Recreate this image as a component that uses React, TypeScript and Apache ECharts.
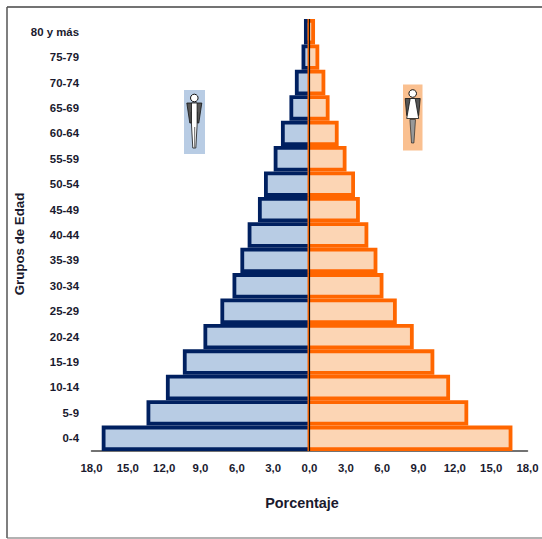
import React, { useEffect, useRef } from "react";
import * as echarts from "echarts";

const ageGroups = ["0-4","5-9","10-14","15-19","20-24","25-29","30-34","35-39","40-44","45-49","50-54","55-59","60-64","65-69","70-74","75-79","80 y más"];
const menPercent = [17.0,13.3,11.7,10.3,8.6,7.2,6.2,5.55,4.95,4.1,3.6,2.8,2.2,1.5,1.05,0.5,0.3];
const womenPercent = [16.6,12.95,11.45,10.15,8.45,7.05,5.95,5.45,4.7,4.0,3.6,2.9,2.25,1.5,1.15,0.65,0.3];
const xTicks = { min: -18, max: 18, interval: 3 };
const BORDER = 3.8;

// Bars whose outline straddles the value (as in the source), open on the zero side.
const barRenderer = (fill: string, stroke: string, edge: boolean) => (_p: any, api: any) => {
  const end = api.coord([api.value(0), api.value(1)]);
  const zero = api.coord([0, api.value(1)]);
  const h = api.size([0, 1])[1] - BORDER;
  const top = end[1] - h / 2;
  const bottom = end[1] + h / 2;
  const children: any[] = [
    { type: "polygon", shape: { points: [[zero[0], top], [end[0], top], [end[0], bottom], [zero[0], bottom]] }, style: { fill } },
    { type: "polyline", shape: { points: [[zero[0], top], [end[0], top], [end[0], bottom], [zero[0], bottom]] }, style: { fill: "none", stroke, lineWidth: BORDER, lineJoin: "miter" } },
  ];
  if (edge) {
    children.push({ type: "line", shape: { x1: zero[0] - 1, y1: top - BORDER / 2, x2: zero[0] - 1, y2: bottom + BORDER / 2 }, style: { stroke, lineWidth: 2 } });
  }
  return { type: "group", children };
};

const man = (cx: number, top: number) => ({
  type: "group", x: cx, y: top, children: [
    { type: "polygon", shape: { points: [[-7.5,13],[7.5,13],[4.5,33],[3,33],[3,22],[-3,22],[-3,33],[-4.5,33]] }, style: { fill: "#555", stroke: "#111", lineWidth: 0.8 } },
    { type: "polygon", shape: { points: [[-2.8,13],[2.8,13],[2.8,35],[1.5,58],[-1.5,58],[-2.8,35]] }, style: { fill: "#fff", stroke: "#111", lineWidth: 0.8 } },
    { type: "line", shape: { x1: 0.4, y1: 37, x2: 0.4, y2: 58 }, style: { stroke: "#666", lineWidth: 1 } },
    { type: "circle", shape: { cx: 0, cy: 8, r: 3.8 }, style: { fill: "#fff", stroke: "#111", lineWidth: 1 } },
  ],
});
const woman = (cx: number, top: number) => ({
  type: "group", x: cx, y: top, children: [
    { type: "polygon", shape: { points: [[-7.5,14],[7.5,14],[6,31],[-6,31]] }, style: { fill: "#555", stroke: "#111", lineWidth: 0.8 } },
    { type: "polygon", shape: { points: [[-2.5,14],[2.5,14],[6,34],[-6,34]] }, style: { fill: "#fff", stroke: "#111", lineWidth: 0.8 } },
    { type: "polygon", shape: { points: [[-2.8,35],[2.8,35],[1.2,58.5],[-1.2,58.5]] }, style: { fill: "#999", stroke: "#111", lineWidth: 0.6 } },
    { type: "circle", shape: { cx: 0, cy: 9, r: 3.8 }, style: { fill: "#fff", stroke: "#111", lineWidth: 1 } },
  ],
});

export default function App() {
  const ref = useRef<HTMLDivElement>(null);
  useEffect(() => {
    const chart = echarts.init(ref.current!, undefined, { renderer: "svg" });
    const font = { fontFamily: "Liberation Sans", fontWeight: "bold" as const, color: "#1a1a2e" };
    chart.setOption({
      animation: false,
      backgroundColor: "#fff",
      grid: { left: 91.5, width: 436, top: 19, height: 432 },
      xAxis: {
        type: "value", ...xTicks,
        splitLine: { show: false },
        axisLine: { show: true, onZero: false, lineStyle: { color: "#444", width: 1.5 } },
        axisTick: { show: false },
        axisLabel: { ...font, fontSize: 11.4, margin: 11, formatter: (v: number) => Math.abs(v).toFixed(1).replace(".", ",") },
        name: "Porcentaje", nameLocation: "middle", nameGap: 45,
        nameTextStyle: { ...font, fontSize: 14.4, padding: [0, 15, 0, 0] },
      },
      yAxis: {
        type: "category", data: ageGroups,
        axisLine: { show: false }, axisTick: { show: false },
        axisLabel: { ...font, fontSize: 11.4, margin: 12.5 },
        name: "Grupos de Edad", nameLocation: "middle", nameGap: 66, nameMoveOverlap: false,
        nameTextStyle: { ...font, fontSize: 13.3, padding: [0, 18, 0, 0] },
      },
      series: [
        {
          name: "Hombres", type: "custom", clip: false, z: 2,
          renderItem: barRenderer("#B8CCE4", "#002060", false),
          encode: { x: 0, y: 1 },
          data: menPercent.map((v, i) => [-v, i]),
        },
        {
          name: "Mujeres", type: "custom", clip: false, z: 3,
          renderItem: barRenderer("#FCD5B4", "#FF6600", true),
          encode: { x: 0, y: 1 },
          data: womenPercent.map((v, i) => [v, i]),
          markLine: {
            silent: true, symbol: "none", label: { show: false }, z: 6,
            lineStyle: { color: "#111", width: 1.2, type: "solid" },
            data: [{ xAxis: 0 }],
          },
        },
      ],
      graphic: [
        { type: "line", shape: { x1: 7, y1: 7, x2: 542, y2: 7 }, style: { stroke: "#444", lineWidth: 1.5 } },
        { type: "line", shape: { x1: 7, y1: 7, x2: 7, y2: 538 }, style: { stroke: "#555", lineWidth: 1.5 } },
        { type: "line", shape: { x1: 7, y1: 538, x2: 542, y2: 538 }, style: { stroke: "#666", lineWidth: 1.2 } },
        { type: "rect", shape: { x: 184, y: 90, width: 21, height: 64 }, style: { fill: "#B8CCE4" } },
        man(194.3, 90),
        { type: "rect", shape: { x: 403, y: 84.5, width: 19.5, height: 66 }, style: { fill: "#FAC090" } },
        woman(412.7, 84.5),
      ],
    });
    return () => chart.dispose();
  }, []);
  return <div ref={ref} style={{ position: "absolute", left: 0, top: 0, width: 542, height: 539 }} />;
}
